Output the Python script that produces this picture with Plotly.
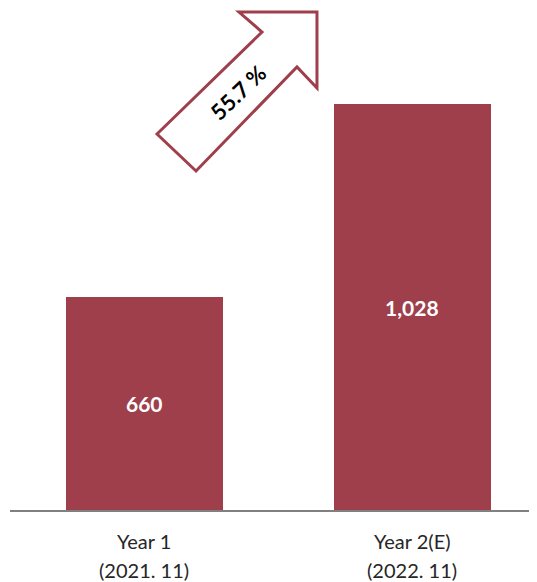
import plotly.graph_objects as go

categories = ["Year 1", "Year 2(E)"]
sub_labels = ["(2021. 11)", "(2022. 11)"]
values = [660, 1028]
value_labels = ["660", "1,028"]
growth_label = "55.7 %"
y_min, y_max = 254, 1211

BAR = "#9E3F4B"
W, H = 537, 582
OFF = 8  # page body margin
ML, MR, MT, MB = 2, 0, 0, 80
PW, PH = W - ML - MR, H - MT - MB


def px2paper(x, y):
    # x, y in screenshot pixels
    return (x - OFF - ML) / PW, (H - MB - (y - OFF)) / PH


arrow_px = [(157, 134), (262, 32), (239, 12), (317, 12), (317, 88), (297, 67), (196, 171)]
pts = [px2paper(x, y) for x, y in arrow_px]
path = "M " + " L ".join(f"{x:.4f},{y:.4f}" for x, y in pts) + " Z"

fig = go.Figure()
fig.add_trace(go.Bar(
    x=categories, y=values,
    marker=dict(color=BAR, line=dict(width=0)),
    width=0.586,
    hoverinfo="skip",
))

for c, v, lab in zip(categories, values, value_labels):
    fig.add_annotation(x=c, y=(y_min + v) / 2, text=f"<b>{lab}</b>", showarrow=False,
                       xanchor="center", yanchor="middle",
                       font=dict(color="white", size=21, family="Lato"))

# two-line category labels
_, y1 = px2paper(0, 541)
_, y2 = px2paper(0, 570)
for c, sub in zip(categories, sub_labels):
    fig.add_annotation(x=c, xref="x", y=y1, yref="paper", text=c, showarrow=False,
                       xanchor="center", yanchor="middle",
                       font=dict(size=20, color="#262626", family="Lato"))
    fig.add_annotation(x=c, xref="x", y=y2, yref="paper", text=sub, showarrow=False,
                       xanchor="center", yanchor="middle",
                       font=dict(size=20, color="#262626", family="Lato"))

fig.add_shape(type="path", path=path, xref="paper", yref="paper",
              line=dict(color=BAR, width=3), fillcolor="white", layer="above")

tx, ty = px2paper(238, 93)
fig.add_annotation(x=tx, y=ty, xref="paper", yref="paper", text=f"<b>{growth_label}</b>",
                   showarrow=False, textangle=-44, xanchor="center", yanchor="middle",
                   font=dict(size=22, color="black", family="Lato"))

fig.update_layout(
    width=W, height=H,
    margin=dict(l=ML, r=MR, t=MT, b=MB),
    paper_bgcolor="white", plot_bgcolor="white",
    showlegend=False,
    bargap=0,
    xaxis=dict(range=[-0.5, 1.494], showline=True, linecolor="#808080", linewidth=2,
               showticklabels=False, ticks="",
               showgrid=False, zeroline=False, fixedrange=True),
    yaxis=dict(range=[y_min, y_max], visible=False, showgrid=False, zeroline=False, fixedrange=True),
)

fig.write_html("out.html")
